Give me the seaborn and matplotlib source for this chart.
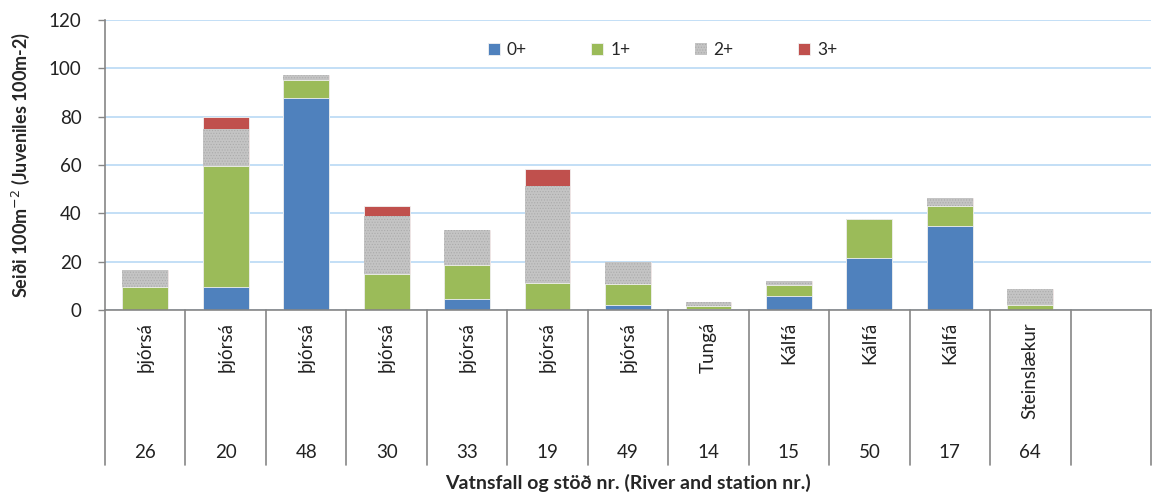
import numpy as np
import pandas as pd
import seaborn as sns
from matplotlib import pyplot as plt
from matplotlib.patches import Patch
from matplotlib.transforms import blended_transform_factory

# Data
rivers = ["þjórsá", "þjórsá", "þjórsá", "þjórsá", "þjórsá", "þjórsá", "þjórsá",
          "Tungá", "Kálfá", "Kálfá", "Kálfá", "Steinslækur"]
stations = ["26", "20", "48", "30", "33", "19", "49", "14", "15", "50", "17", "64"]
age_0 = [0.0, 9.7, 87.9, 0.0, 4.4, 0.0, 2.1, 0.4, 5.9, 21.6, 34.8, 0.0]
age_1 = [9.7, 50.0, 7.3, 14.9, 14.3, 11.2, 8.7, 1.4, 4.4, 16.2, 8.2, 1.9]
age_2 = [6.7, 15.1, 2.0, 24.0, 14.5, 40.0, 8.9, 1.5, 1.8, 0.0, 3.2, 6.7]
age_3 = [0.0, 4.9, 0.0, 4.1, 0.0, 7.0, 0.0, 0.0, 0.0, 0.0, 0.0, 0.0]

age_labels = ["0+", "1+", "2+", "3+"]
colors = ["#4F81BD", "#9BBB59", "#C4C4C4", "#C0504D"]

sns.set_style("white")
plt.rcParams['font.family'] = ['Lato', 'DejaVu Sans']
plt.rcParams['hatch.linewidth'] = 0.5

df = pd.DataFrame({
    "station": stations,
    "0+": age_0, "1+": age_1, "2+": age_2, "3+": age_3,
})
# cumulative heights, drawn from the top layer down
cum = df[age_labels].cumsum(axis=1)

fig = plt.figure(figsize=(11.53, 4.95), dpi=100)
ax = fig.add_axes([105 / 1153, 1 - 310 / 495, 1046 / 1153, 290 / 495])

for i in range(3, -1, -1):
    if i == 2:
        # dotted grey fill; the hatch takes the edge colour
        style = dict(edgecolor="#ABABAB", linewidth=0, hatch="......")
    else:
        style = dict(edgecolor="#F2F2F2", linewidth=0.6)
    sns.barplot(
        x=df["station"], y=cum[age_labels[i]], order=stations,
        color=colors[i], saturation=1, width=0.57, ax=ax, **style,
    )

# one empty category slot at the right end
ax.set_xlim(-0.5, 12.5)
ax.set_ylim(0, 120)
ax.set_yticks(np.arange(0, 121, 20))
ax.yaxis.grid(True, color="#B9D9F5", lw=1.2)
ax.set_axisbelow(True)
ax.tick_params(axis="y", labelsize=13.5, length=5, width=1, color="#868686",
               left=True, pad=12, labelcolor="#222222")
ax.set_xticks([])
ax.set_xlabel("")
ax.set_ylabel("Seiði 100m$^{-2}$ (Juveniles 100m-2)", fontsize=13,
              fontweight="bold", labelpad=12)
for side in ["top", "right"]:
    ax.spines[side].set_visible(False)
for side in ["left", "bottom"]:
    ax.spines[side].set_color("#868686")
    ax.spines[side].set_linewidth(1.2)

# two-level category axis below the plot
trans = blended_transform_factory(ax.transData, ax.transAxes)
sep_bottom = -(465 - 310) / 290
for k in range(14):
    ax.plot([k - 0.5, k - 0.5], [0, sep_bottom], transform=trans,
            color="#868686", lw=1.2, clip_on=False)
for k, (river, st) in enumerate(zip(rivers, stations)):
    ax.text(k, -(322 - 310) / 290, river, transform=trans, rotation=90,
            ha="center", va="top", fontsize=13.5, color="#222222")
    ax.text(k, -(453 - 310) / 290, st, transform=trans,
            ha="center", va="center", fontsize=13.5, color="#222222")
ax.text(0.5, -(483 - 310) / 290, "Vatnsfall og stöð nr. (River and station nr.)",
        transform=ax.transAxes, ha="center", va="center", fontsize=14,
        fontweight="bold")

handles = [
    Patch(facecolor=c, edgecolor="#ABABAB", linewidth=0, hatch="......") if j == 2
    else Patch(facecolor=c, edgecolor="#F2F2F2", linewidth=0.6)
    for j, c in enumerate(colors)
]
ax.legend(handles, age_labels, ncol=4, frameon=False, fontsize=12.5,
          loc="center", bbox_to_anchor=(0.533, 0.895), handlelength=0.7,
          handleheight=0.7, handletextpad=0.4, columnspacing=3.7)

fig.savefig("out.png", dpi=100)
